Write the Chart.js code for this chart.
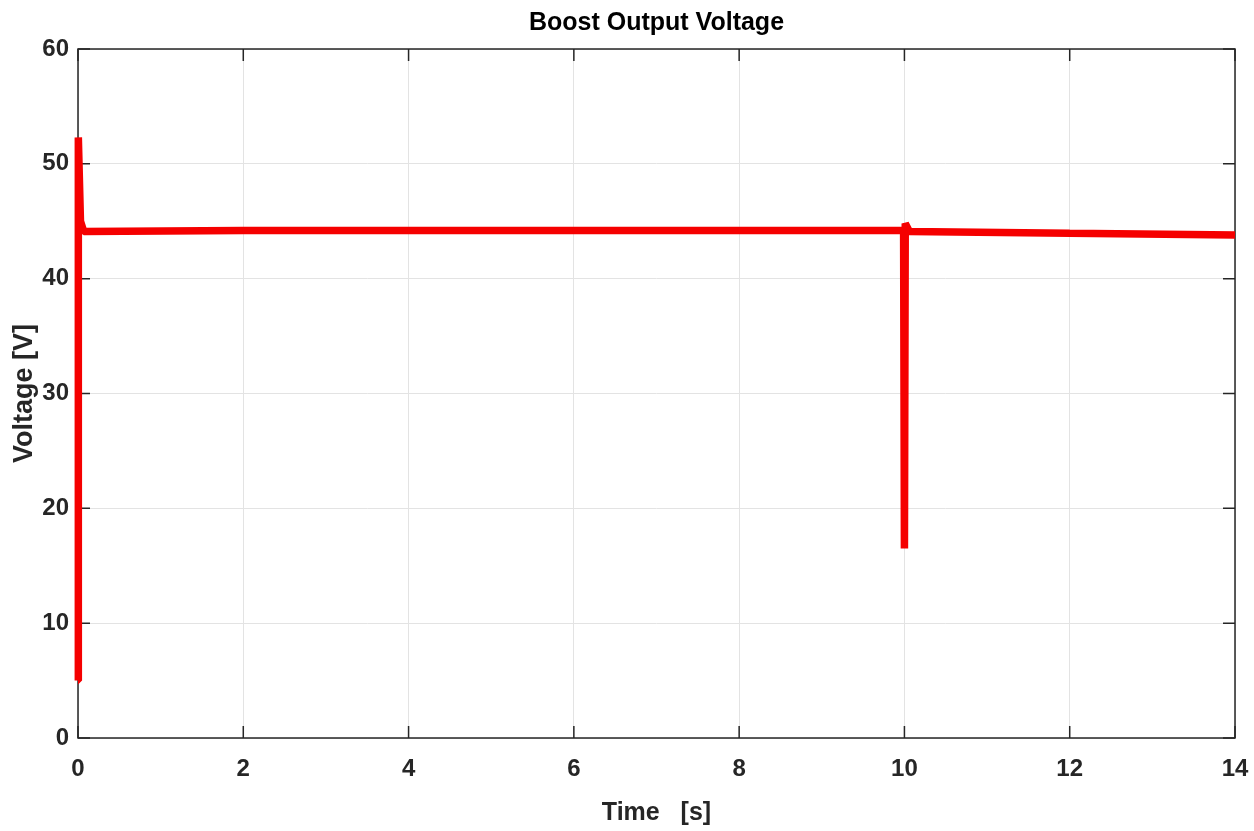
<!DOCTYPE html>
<html>
<head>
<meta charset="utf-8">
<script src="https://cdn.jsdelivr.net/npm/chart.js@4"></script>
<style>
  html, body { margin: 0; padding: 0; background: #fff; }
  #wrap { width: 1254px; height: 831px; }
</style>
</head>
<body>
<div id="wrap"><canvas id="boostChart" width="1254" height="831"></canvas></div>
<script>
// values
const time    = [0,   0.004, 0.03, 0.07, 2,    4,    6,    8,    9.99, 10.0, 10.01, 10.06, 12,    14];
const voltage = [5,   52.3,  45,   44.1, 44.2, 44.2, 44.2, 44.2, 44.2, 16.5, 44.8,  44.1,  43.95, 43.8];
const xTicks = [0, 2, 4, 6, 8, 10, 12, 14];
const yTicks = [0, 10, 20, 30, 40, 50, 60];
const chartTitle = 'Boost Output Voltage';

const fontFamily = "'Liberation Sans', Arial, sans-serif";

let points = time.map((t, i) => ({ x: t, y: voltage[i] }));

// MATLAB-like box with inward ticks, title centred over the axes
const boxPlugin = {
    id: 'box',
    beforeDatasetsDraw(chart) {
        const ctx = chart.ctx;
        const a = chart.chartArea;
        const xs = chart.scales.x;
        const ys = chart.scales.y;
        ctx.save();
        ctx.strokeStyle = '#262626';
        ctx.lineWidth = 1.5;
        ctx.strokeRect(a.left, a.top, a.right - a.left, a.bottom - a.top);
        ctx.beginPath();
        xTicks.forEach(v => {
            let px = xs.getPixelForValue(v);
            ctx.moveTo(px, a.bottom); ctx.lineTo(px, a.bottom - 12);
            ctx.moveTo(px, a.top); ctx.lineTo(px, a.top + 12);
        });
        yTicks.forEach(v => {
            let py = ys.getPixelForValue(v);
            ctx.moveTo(a.left, py); ctx.lineTo(a.left + 12, py);
            ctx.moveTo(a.right, py); ctx.lineTo(a.right - 12, py);
        });
        ctx.stroke();

        ctx.fillStyle = '#000';
        ctx.font = 'bold 25px ' + fontFamily;
        ctx.textAlign = 'center';
        ctx.textBaseline = 'middle';
        ctx.fillText(chartTitle, (a.left + a.right) / 2, 23);
        ctx.restore();
    }
};

new Chart(document.getElementById('boostChart'), {
    type: 'line',
    data: {
        datasets: [{
            label: chartTitle,
            data: points,
            borderColor: 'rgb(245, 0, 0)',
            borderWidth: 7.5,
            borderJoinStyle: 'bevel',
            pointRadius: 0,
            tension: 0,
            fill: false,
            clip: false
        }]
    },
    options: {
        responsive: false,
        animation: false,
        layout: { padding: { left: 0, right: 19, top: 49, bottom: 0 } },
        plugins: {
            legend: { display: false },
            tooltip: { enabled: false },
            title: { display: false }
        },
        scales: {
            x: {
                type: 'linear',
                min: 0,
                max: 14,
                afterFit: s => { s.height = 93; s.paddingRight = 0; s.paddingLeft = 0; },
                afterBuildTicks: s => { s.ticks = xTicks.map(v => ({ value: v })); },
                grid: { color: '#e3e3e3', lineWidth: 1, drawTicks: false },
                border: { display: false },
                ticks: {
                    color: '#262626',
                    padding: 17,
                    font: { family: fontFamily, size: 24, weight: 'bold' },
                    maxRotation: 0
                },
                title: {
                    display: true,
                    text: 'Time   [s]',
                    color: '#262626',
                    font: { family: fontFamily, size: 25, weight: 'bold', lineHeight: 1.2 },
                    padding: { top: 4, bottom: 3 }
                }
            },
            y: {
                min: 0,
                max: 60,
                afterFit: s => { s.width = 78; s.paddingTop = 0; s.paddingBottom = 0; },
                afterBuildTicks: s => { s.ticks = yTicks.map(v => ({ value: v })); },
                grid: { color: '#e3e3e3', lineWidth: 1, drawTicks: false },
                border: { display: false },
                ticks: {
                    color: '#262626',
                    padding: 9,
                    font: { family: fontFamily, size: 24, weight: 'bold' }
                },
                title: {
                    display: true,
                    text: 'Voltage [V]',
                    color: '#262626',
                    font: { family: fontFamily, size: 27, weight: 'bold', lineHeight: 1.2 },
                    padding: { top: 8, bottom: 0 }
                }
            }
        }
    },
    plugins: [boxPlugin]
});
</script>
</body>
</html>
